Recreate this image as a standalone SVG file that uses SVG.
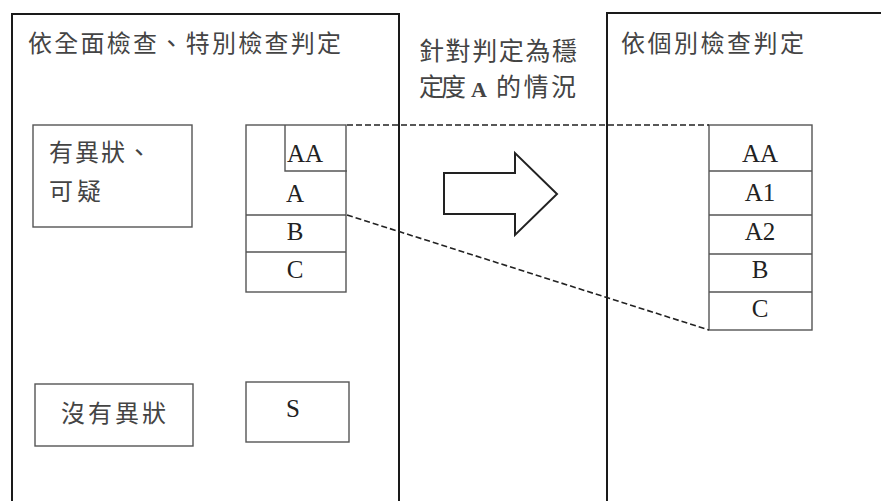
<svg xmlns="http://www.w3.org/2000/svg" width="881" height="501" viewBox="0 0 881 501">
<style>
.frame{fill:none;stroke:#1a1a1a;stroke-width:2}
.box{fill:#fff;stroke:#555;stroke-width:1.4}
.ln{stroke:#555;stroke-width:1.4}
.cjk{font-family:"Noto Sans CJK TC","Noto Sans CJK SC",sans-serif;font-size:24px;fill:#444}
.cap{font-size:25px}
.lat{font-family:"Liberation Serif",serif;font-size:25px;fill:#222;text-anchor:middle}
.dash{fill:none;stroke:#222;stroke-width:1.6;stroke-dasharray:6,3}
</style>
<rect width="881" height="501" fill="#fff"/>
<g id="left-frame">
<path class="frame" d="M12,510 V14 H399 V510"/>
<text class="cjk" x="28" y="52" textLength="313" lengthAdjust="spacing">依全面檢查、特別檢查判定</text>
</g>
<g id="right-frame">
<path class="frame" d="M607,510 V13 H890"/>
<text class="cjk" x="621" y="52" textLength="183" lengthAdjust="spacing">依個別檢查判定</text>
</g>
<g id="abnormal">
<rect class="box" x="33" y="125" width="159" height="102"/>
<text class="cjk" x="49" y="161" textLength="102" lengthAdjust="spacing">有異狀、</text>
<text class="cjk" x="49" y="200" textLength="52" lengthAdjust="spacing">可疑</text>
</g>
<g id="normal">
<rect class="box" x="35" y="384" width="158" height="62"/>
<text class="cjk" x="61" y="422" textLength="105" lengthAdjust="spacing">沒有異狀</text>
</g>
<g id="left-stack">
<rect class="box" x="246" y="125" width="100" height="167"/>
<path class="ln" d="M285,125 V171 H347 M246,215 H346 M246,252 H346" fill="none"/>
<text class="lat" x="305" y="162">AA</text>
<text class="lat" x="295" y="202">A</text>
<text class="lat" x="295" y="240">B</text>
<text class="lat" x="295" y="278">C</text>
</g>
<g id="s-box">
<rect class="box" x="246" y="382" width="103" height="60"/>
<text class="lat" x="293" y="417">S</text>
</g>
<g id="caption">
<text class="cjk cap" x="419" y="60" textLength="158" lengthAdjust="spacing">針對判定為穩</text>
<text class="cjk cap" x="419" y="96" textLength="47" lengthAdjust="spacing">定度</text>
<text class="lat" x="479" y="97" style="font-size:22px;font-weight:bold;fill:#444">A</text>
<text class="cjk cap" x="496" y="96" textLength="80" lengthAdjust="spacing">的情況</text>
</g>
<g id="arrow">
<path d="M444,173 H515 V153 L557,194 L515,235 V214 H444 Z" fill="#fff" stroke="#222" stroke-width="2" stroke-linejoin="miter"/>
</g>
<g id="right-stack">
<rect class="box" x="709" y="125" width="103" height="205"/>
<path class="ln" d="M709,171 H812 M709,215 H812 M709,254 H812 M709,292 H812" fill="none"/>
<text class="lat" x="760" y="162">AA</text>
<text class="lat" x="760" y="201">A1</text>
<text class="lat" x="760" y="240">A2</text>
<text class="lat" x="760" y="278">B</text>
<text class="lat" x="760" y="317">C</text>
</g>
<g id="connectors">
<path class="dash" d="M347,125 H709"/>
<path class="dash" d="M347,215 L709,330"/>
</g>
</svg>
